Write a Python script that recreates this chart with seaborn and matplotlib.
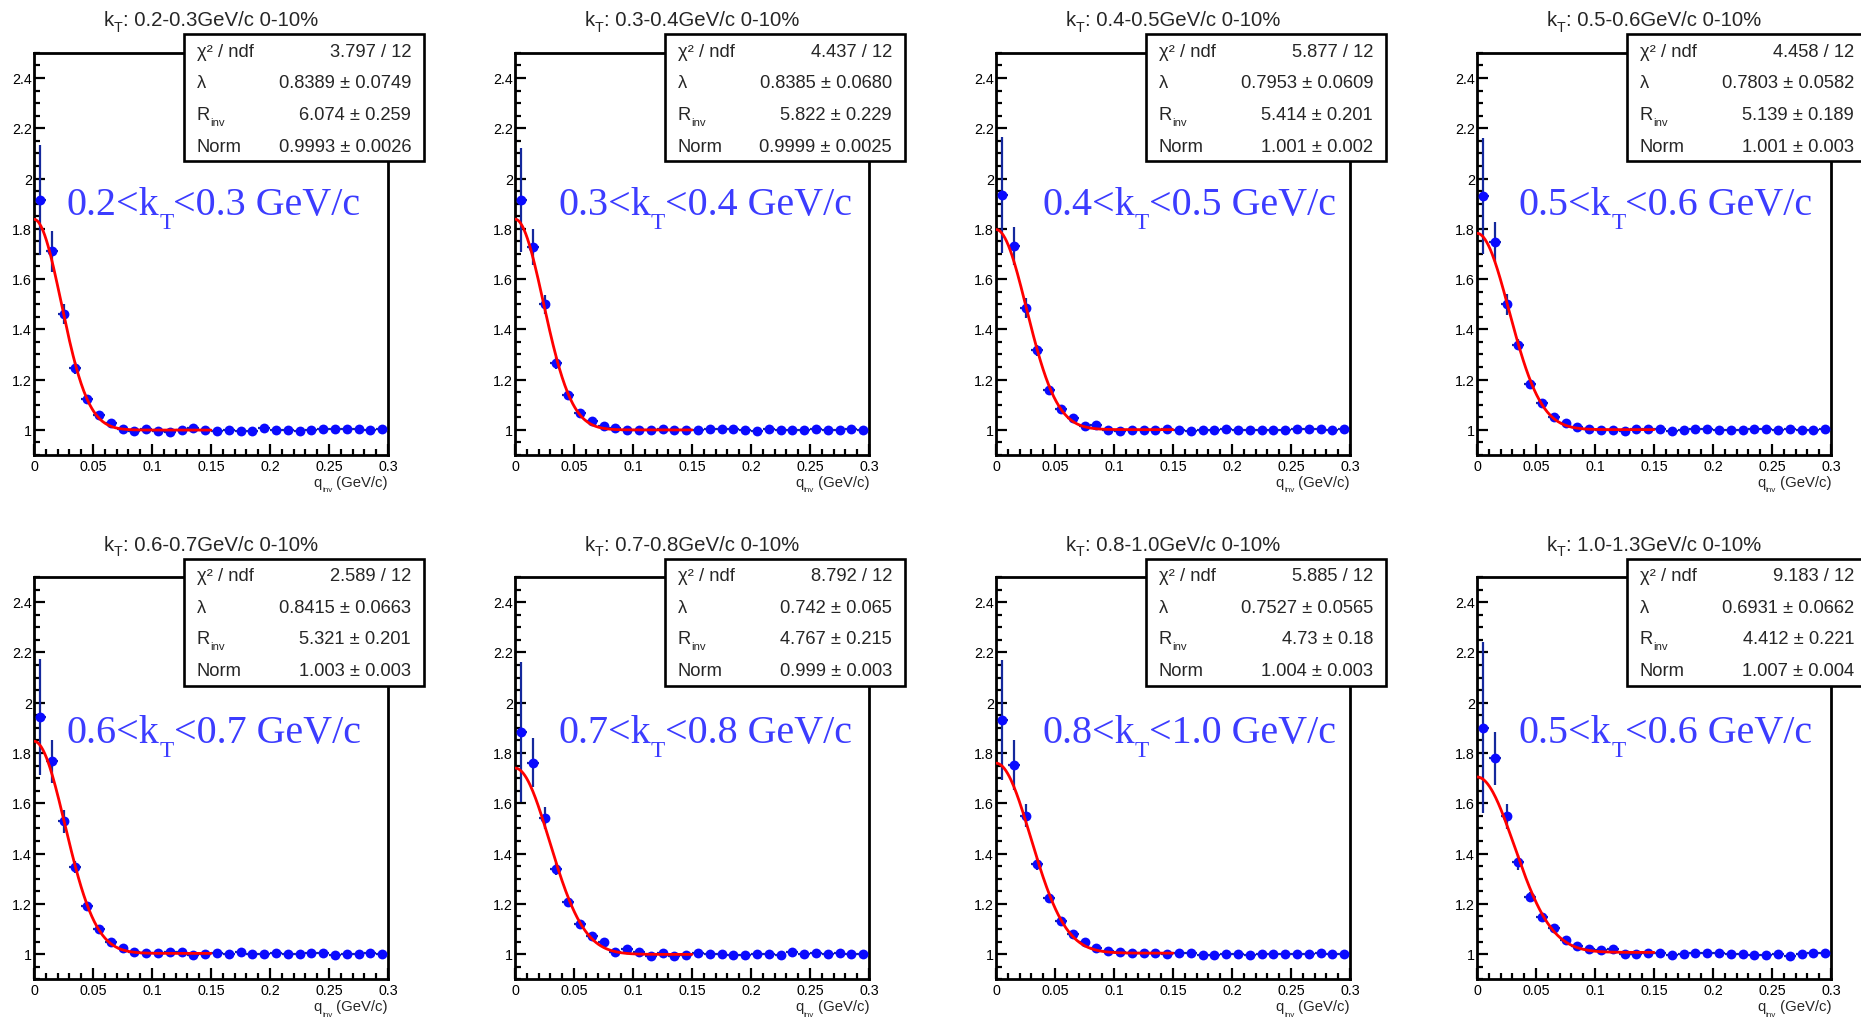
import numpy as np
import pandas as pd
import matplotlib
matplotlib.use("Agg")
import matplotlib.pyplot as plt
from matplotlib.patches import Rectangle
from matplotlib.ticker import MultipleLocator, FuncFormatter
import seaborn as sns

# ---------------------------------------------------------------- data
# bin centres of q_inv (GeV/c), bin half-width 0.005
q_centers = [0.005, 0.015, 0.025, 0.035, 0.045, 0.055, 0.065, 0.075, 0.085, 0.095,
             0.105, 0.115, 0.125, 0.135, 0.145, 0.155, 0.165, 0.175, 0.185, 0.195,
             0.205, 0.215, 0.225, 0.235, 0.245, 0.255, 0.265, 0.275, 0.285, 0.295]
q_half_width = 0.005

kt_bins = ["0.2-0.3", "0.3-0.4", "0.4-0.5", "0.5-0.6",
           "0.6-0.7", "0.7-0.8", "0.8-1.0", "1.0-1.3"]
label_lo = ["0.2", "0.3", "0.4", "0.5", "0.6", "0.7", "0.8", "0.5"]
label_hi = ["0.3", "0.4", "0.5", "0.6", "0.7", "0.8", "1.0", "0.6"]

cf_kt1 = [1.914, 1.710, 1.462, 1.247, 1.121, 1.060, 1.027, 1.004, 0.997, 1.004,
          0.995, 0.991, 1.000, 1.008, 1.001, 0.995, 1.000, 0.995, 0.995, 1.007,
          1.000, 1.000, 0.995, 1.000, 1.004, 1.004, 1.004, 1.004, 1.000, 1.004]
cf_kt2 = [1.914, 1.728, 1.499, 1.266, 1.137, 1.068, 1.037, 1.015, 1.008, 1.000,
          1.000, 1.000, 1.004, 1.001, 1.000, 1.000, 1.004, 1.004, 1.004, 1.000,
          0.996, 1.004, 1.000, 1.000, 1.001, 1.004, 1.000, 1.000, 1.004, 1.000]
cf_kt3 = [1.934, 1.732, 1.486, 1.316, 1.157, 1.084, 1.048, 1.017, 1.020, 1.001,
          0.995, 1.000, 1.000, 1.000, 1.004, 1.000, 0.996, 1.000, 1.000, 1.004,
          1.000, 1.000, 1.000, 1.000, 1.000, 1.004, 1.004, 1.004, 1.000, 1.004]
cf_kt4 = [1.931, 1.748, 1.499, 1.339, 1.183, 1.108, 1.050, 1.028, 1.011, 1.004,
          1.000, 1.000, 0.996, 1.004, 1.004, 1.004, 0.996, 1.000, 1.004, 1.004,
          1.000, 1.000, 1.000, 1.004, 1.004, 1.000, 1.004, 1.000, 1.000, 1.004]
cf_kt5 = [1.944, 1.767, 1.528, 1.346, 1.191, 1.100, 1.049, 1.023, 1.009, 1.005,
          1.005, 1.009, 1.009, 0.996, 1.000, 1.005, 1.000, 1.007, 1.000, 1.000,
          1.005, 1.000, 1.000, 1.005, 1.005, 0.996, 1.000, 1.000, 1.005, 1.000]
cf_kt6 = [1.884, 1.761, 1.541, 1.338, 1.206, 1.118, 1.073, 1.049, 1.007, 1.020,
          1.007, 0.993, 1.003, 0.993, 0.996, 1.005, 1.000, 1.000, 0.996, 0.996,
          1.000, 1.000, 0.996, 1.007, 1.000, 1.003, 1.000, 1.005, 1.000, 1.000]
cf_kt7 = [1.931, 1.751, 1.551, 1.358, 1.222, 1.132, 1.082, 1.049, 1.023, 1.013,
          1.009, 1.005, 1.005, 1.005, 1.000, 1.005, 1.005, 0.996, 0.996, 1.000,
          1.000, 0.996, 1.000, 1.000, 1.000, 1.000, 1.000, 1.005, 1.000, 1.000]
cf_kt8 = [1.901, 1.779, 1.549, 1.365, 1.228, 1.149, 1.105, 1.056, 1.033, 1.020,
          1.016, 1.020, 0.999, 0.999, 1.003, 1.005, 0.996, 1.000, 1.005, 1.005,
          1.005, 1.000, 1.000, 0.996, 0.996, 1.000, 0.993, 1.000, 1.003, 1.003]

err_kt1 = [0.220, 0.080, 0.040, 0.025, 0.016, 0.011, 0.008, 0.006, 0.005, 0.005,
           0.005, 0.005, 0.005, 0.005, 0.005, 0.005, 0.005, 0.005, 0.005, 0.005,
           0.005, 0.005, 0.005, 0.005, 0.005, 0.005, 0.005, 0.005, 0.005, 0.005]
err_kt2 = [0.206, 0.073, 0.037, 0.022, 0.015, 0.010, 0.008, 0.006, 0.005, 0.005,
           0.005, 0.005, 0.005, 0.005, 0.005, 0.005, 0.005, 0.005, 0.005, 0.005,
           0.005, 0.005, 0.005, 0.005, 0.005, 0.005, 0.005, 0.005, 0.005, 0.005]
err_kt3 = [0.230, 0.076, 0.040, 0.022, 0.015, 0.010, 0.008, 0.006, 0.005, 0.005,
           0.005, 0.005, 0.005, 0.005, 0.005, 0.005, 0.005, 0.005, 0.005, 0.005,
           0.005, 0.005, 0.005, 0.005, 0.005, 0.005, 0.005, 0.005, 0.005, 0.005]
err_kt4 = [0.230, 0.080, 0.040, 0.022, 0.015, 0.010, 0.008, 0.006, 0.005, 0.005,
           0.005, 0.005, 0.005, 0.005, 0.005, 0.005, 0.005, 0.005, 0.005, 0.005,
           0.005, 0.005, 0.005, 0.005, 0.005, 0.005, 0.005, 0.005, 0.005, 0.005]
err_kt5 = [0.230, 0.086, 0.045, 0.025, 0.016, 0.011, 0.008, 0.006, 0.005, 0.005,
           0.005, 0.005, 0.005, 0.005, 0.005, 0.005, 0.005, 0.005, 0.005, 0.005,
           0.005, 0.005, 0.005, 0.005, 0.005, 0.005, 0.005, 0.005, 0.005, 0.005]
err_kt6 = [0.280, 0.097, 0.045, 0.025, 0.016, 0.011, 0.008, 0.006, 0.005, 0.005,
           0.005, 0.005, 0.005, 0.005, 0.005, 0.005, 0.005, 0.005, 0.005, 0.005,
           0.005, 0.005, 0.005, 0.005, 0.005, 0.005, 0.005, 0.005, 0.005, 0.005]
err_kt7 = [0.240, 0.100, 0.045, 0.025, 0.017, 0.011, 0.008, 0.006, 0.005, 0.005,
           0.005, 0.005, 0.005, 0.005, 0.005, 0.005, 0.005, 0.005, 0.005, 0.005,
           0.005, 0.005, 0.005, 0.005, 0.005, 0.005, 0.005, 0.005, 0.005, 0.005]
err_kt8 = [0.340, 0.106, 0.050, 0.030, 0.018, 0.012, 0.009, 0.007, 0.006, 0.005,
           0.005, 0.005, 0.005, 0.005, 0.005, 0.005, 0.005, 0.005, 0.005, 0.005,
           0.005, 0.005, 0.005, 0.005, 0.005, 0.005, 0.005, 0.005, 0.005, 0.005]

cf_all = [cf_kt1, cf_kt2, cf_kt3, cf_kt4, cf_kt5, cf_kt6, cf_kt7, cf_kt8]
err_all = [err_kt1, err_kt2, err_kt3, err_kt4, err_kt5, err_kt6, err_kt7, err_kt8]

# Gaussian fit results per kT bin
chi2_val = ["3.797", "4.437", "5.877", "4.458", "2.589", "8.792", "5.885", "9.183"]
ndf_val = 12
lam_val = ["0.8389", "0.8385", "0.7953", "0.7803", "0.8415", "0.742", "0.7527", "0.6931"]
lam_err = ["0.0749", "0.0680", "0.0609", "0.0582", "0.0663", "0.065", "0.0565", "0.0662"]
rinv_val = ["6.074", "5.822", "5.414", "5.139", "5.321", "4.767", "4.73", "4.412"]
rinv_err = ["0.259", "0.229", "0.201", "0.189", "0.201", "0.215", "0.18", "0.221"]
norm_val = ["0.9993", "0.9999", "1.001", "1.001", "1.003", "0.999", "1.004", "1.007"]
norm_err = ["0.0026", "0.0025", "0.002", "0.003", "0.003", "0.003", "0.003", "0.004"]

HBARC = 0.19733  # GeV fm
FIT_MAX = 0.15

# ---------------------------------------------------------------- style
sns.set_theme(style="ticks")
plt.rcParams.update({
    "font.family": ["Liberation Sans", "DejaVu Sans"],
    "axes.facecolor": "white",
    "figure.facecolor": "white",
    "axes.edgecolor": "black",
    "xtick.color": "black",
    "ytick.color": "black",
})

MARKER_COLOR = "#0a0aff"
ERR_COLOR = "#14289c"
LABEL_COLOR = "#3c3cff"

W, H = 1861, 1019
AX_LEFT = [34, 515, 996, 1477]
AX_TOP = [53.3, 577.3]
AX_W, AX_H = 354, 402
LBL_X = [0.092, 0.122, 0.130, 0.1175]
LBL_Y = [0.5975, 0.5885]

BOX_X0, BOX_Y0, BOX_W, BOX_H = 0.4246, 0.730, 0.6771, 0.3156
ROW_PX = 31.7
BOX_FS = 13.2

fig = plt.figure(figsize=(W / 100, (H + 0.5) / 100), dpi=100)

fmt = FuncFormatter(lambda v, p: f"{v:g}")

aligned_chains = []


def chain_text(ax, x, y, pieces, size, sub_scale, drop, align="left", **kw):
    """Write text pieces one after another on a common baseline; pieces
    flagged as subscripts are smaller and lowered by `drop` (in em)."""
    first = ax.text(x, y, pieces[0][0], transform=ax.transAxes, ha="left",
                    va="baseline", fontsize=size, **kw)
    prev = first
    for s, is_sub in pieces[1:]:
        prev = ax.annotate(s, xy=(1, y), xycoords=(prev, "axes fraction"),
                           xytext=(0, -drop * size if is_sub else 0),
                           textcoords="offset points", ha="left", va="baseline",
                           fontsize=size * sub_scale if is_sub else size,
                           annotation_clip=False, **kw)
    if align != "left":
        aligned_chains.append((ax, first, prev, align, x))
    return first


for idx in range(8):
    r, c = divmod(idx, 4)
    ax = fig.add_axes([AX_LEFT[c] / W, 1 - (AX_TOP[r] + AX_H) / H, AX_W / W, AX_H / H])

    df = pd.DataFrame({"q": q_centers, "cf": cf_all[idx], "err": err_all[idx]})

    ax.errorbar(df["q"], df["cf"], yerr=df["err"], xerr=q_half_width, fmt="none",
                ecolor=ERR_COLOR, elinewidth=1.6, capsize=0, zorder=2)
    sns.scatterplot(data=df, x="q", y="cf", ax=ax, color=MARKER_COLOR, s=50,
                    linewidth=0, zorder=3, legend=False)

    lam = float(lam_val[idx])
    rinv = float(rinv_val[idx])
    norm = float(norm_val[idx])
    qfit = np.linspace(0.0, FIT_MAX, 200)
    cfit = norm * (1.0 + lam * np.exp(-(rinv * qfit / HBARC) ** 2))
    sns.lineplot(x=qfit, y=cfit, ax=ax, color="#ff0000", linewidth=2.0,
                 zorder=4, estimator=None, sort=False)

    ax.set_xlim(0, 0.3)
    ax.set_ylim(0.9, 2.5)
    ax.set_xlabel("")
    ax.set_ylabel("")
    ax.xaxis.set_major_locator(MultipleLocator(0.05))
    ax.xaxis.set_minor_locator(MultipleLocator(0.01))
    ax.yaxis.set_major_locator(MultipleLocator(0.2))
    ax.yaxis.set_minor_locator(MultipleLocator(0.05))
    ax.xaxis.set_major_formatter(fmt)
    ax.yaxis.set_major_formatter(fmt)
    ax.tick_params(axis="both", which="both", direction="in", top=False, right=False)
    ax.tick_params(which="major", length=8, width=1.6)
    ax.tick_params(which="minor", length=4.3, width=1.6)
    ax.tick_params(axis="y", pad=1.5, labelsize=10.3)
    ax.tick_params(axis="x", pad=3, labelsize=10.3)
    for sp in ax.spines.values():
        sp.set_linewidth(2.0)
        sp.set_color("black")
        sp.set_visible(True)

    # panel title
    chain_text(ax, 0.5, 1 + 27 / AX_H,
               [("k", False), ("T", True), (f": {kt_bins[idx]}GeV/c 0-10%", False)],
               14.7, 0.7, 0.28, align="center")

    # axis title
    chain_text(ax, 1.0, -31 / AX_H,
               [("q", False), ("inv", True), (" (GeV/c)", False)],
               10.7, 0.55, 0.4, align="right")

    # kT range label
    chain_text(ax, LBL_X[c], LBL_Y[r],
               [(f"{label_lo[idx]}<k", False), ("T", True),
                (f"<{label_hi[idx]} GeV/c", False)],
               28.8, 0.58, 0.34, fontfamily="Liberation Serif",
               color=LABEL_COLOR, zorder=12)

    # fit statistics box
    ax.add_patch(Rectangle((BOX_X0, BOX_Y0), BOX_W, BOX_H, transform=ax.transAxes,
                           facecolor="white", edgecolor="black", linewidth=1.9,
                           clip_on=False, zorder=10))
    names = [[("χ² / ndf", False)], [("λ", False)],
             [("R", False), ("inv", True)], [("Norm", False)]]
    values = [f"{chi2_val[idx]} / {ndf_val}",
              f"{lam_val[idx]} ± {lam_err[idx]}",
              f"{rinv_val[idx]} ± {rinv_err[idx]}",
              f"{norm_val[idx]} ± {norm_err[idx]}"]
    box_top = BOX_Y0 + BOX_H
    for i in range(4):
        yb = box_top - ((i + 0.5) * ROW_PX + 5.8) / AX_H
        chain_text(ax, BOX_X0 + 12.4 / AX_W, yb, names[i], BOX_FS, 0.62, 0.3,
                   zorder=11)
        ax.text(BOX_X0 + BOX_W - 13 / AX_W, yb, values[i], transform=ax.transAxes,
                ha="right", va="baseline", fontsize=BOX_FS, zorder=11)

# centre / right-align the multi-piece labels
fig.canvas.draw()
renderer = fig.canvas.get_renderer()
for ax, first, last, align, x in aligned_chains:
    x0 = first.get_window_extent(renderer).x0
    x1 = last.get_window_extent(renderer).x1
    axw = ax.get_window_extent(renderer).width
    width = (x1 - x0) / axw
    first.set_x(x - width / 2 if align == "center" else x - width)

fig.savefig("out.png", dpi=100, facecolor="white")
